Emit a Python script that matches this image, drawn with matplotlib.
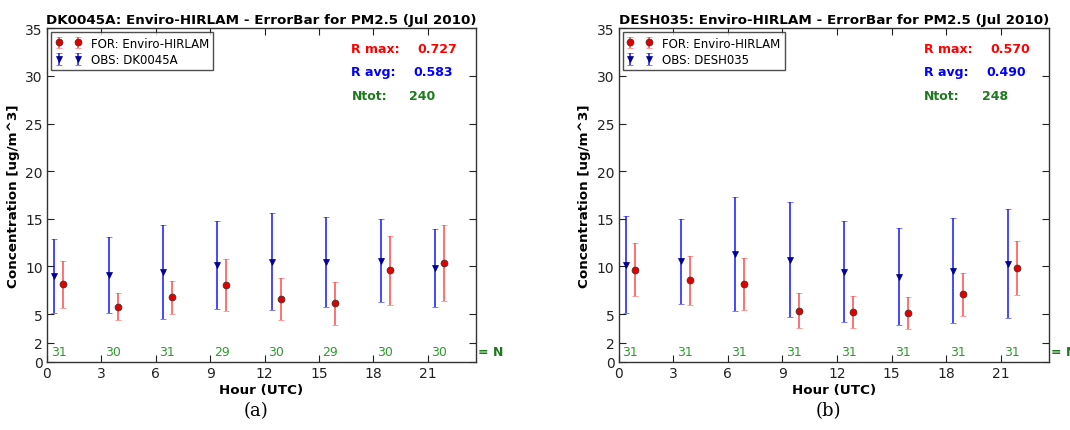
import numpy as np
import matplotlib
matplotlib.use('Agg')
import matplotlib.pyplot as plt

# ---------------------------------------------------------------------------
# Data (3-hourly means and spread)
# ---------------------------------------------------------------------------
HOURS = [0, 3, 6, 9, 12, 15, 18, 21]
XTICKS = [0, 3, 6, 9, 12, 15, 18, 21]
YTICKS = [0, 2, 5, 10, 15, 20, 25, 30, 35]

STATIONS = ['DK0045A', 'DESH035']
PANEL_TAGS = ['(a)', '(b)']

OBS_MEAN_A = [9.0, 9.1, 9.4, 10.15, 10.5, 10.45, 10.6, 9.85]
OBS_STD_A = [3.9, 3.96, 4.9, 4.63, 5.1, 4.73, 4.33, 4.12]
FOR_MEAN_A = [8.13, 5.78, 6.76, 8.02, 6.59, 6.13, 9.6, 10.37]
FOR_STD_A = [2.47, 1.39, 1.75, 2.75, 2.17, 2.26, 3.6, 4.0]
NCOUNT_A = [31, 30, 31, 29, 30, 29, 30, 30]

OBS_MEAN_B = [10.19, 10.54, 11.31, 10.68, 9.45, 8.93, 9.56, 10.29]
OBS_STD_B = [5.1, 4.45, 5.96, 6.04, 5.27, 5.1, 5.55, 5.73]
FOR_MEAN_B = [9.66, 8.55, 8.13, 5.33, 5.19, 5.15, 7.08, 9.81]
FOR_STD_B = [2.76, 2.59, 2.73, 1.84, 1.66, 1.68, 2.24, 2.82]
NCOUNT_B = [31, 31, 31, 31, 31, 31, 31, 31]

R_MAX = ['0.727', '0.570']
R_AVG = ['0.583', '0.490']
N_TOT = ['240', '248']

PANELS = [
    (OBS_MEAN_A, OBS_STD_A, FOR_MEAN_A, FOR_STD_A, NCOUNT_A),
    (OBS_MEAN_B, OBS_STD_B, FOR_MEAN_B, FOR_STD_B, NCOUNT_B),
]

AX_POS = [
    [0.0439, 0.1585, 0.4007, 0.7735],
    [0.5782, 0.1585, 0.4021, 0.7735],
]


def draw_panel(ax, station, obs_m, obs_s, for_m, for_s, ncount, rmax, ravg, ntot):
    h = np.array(HOURS, dtype=float)

    ax.errorbar(h + 0.4, obs_m, yerr=obs_s, fmt='v', color='#0000a0',
                ecolor=(0.1, 0.1, 1.0, 0.8), elinewidth=1.4, capsize=2.2,
                capthick=1.4, markersize=5, markeredgecolor='#000080',
                markeredgewidth=0.5, label=f'OBS: {station}', zorder=3)
    ax.errorbar(h + 0.9, for_m, yerr=for_s, fmt='o', color='#e00000',
                ecolor=(1.0, 0.3, 0.3, 0.8), elinewidth=1.4, capsize=2.2,
                capthick=1.4, markersize=5, markeredgecolor='#333333',
                markeredgewidth=0.5, label='FOR: Enviro-HIRLAM', zorder=4)

    for hr, n in zip(HOURS, ncount):
        ax.text(hr + 0.2, 0.35, str(n), color='#2e9a2e', fontsize=9,
                ha='left', va='bottom')
    ax.text(1.005, 0.35 / 35, '= N', transform=ax.transAxes, color='#1f7a1f',
            fontsize=9, fontweight='bold', ha='left', va='bottom',
            clip_on=False)

    ax.set_xlim(0, 23.65)
    ax.set_ylim(0, 35)
    ax.set_xticks(XTICKS)
    ax.set_yticks(YTICKS)
    ax.tick_params(direction='in', top=True, right=True, labelsize=10,
                   length=5, width=0.8, colors='#222222', pad=3)
    for s in ax.spines.values():
        s.set_linewidth(1.0)
        s.set_color('#333333')

    ax.set_title(f'{station}: Enviro-HIRLAM - ErrorBar for PM2.5 (Jul 2010)',
                 fontsize=9.7, fontweight='bold', pad=4)
    ax.set_xlabel('Hour (UTC)', fontsize=9.7, fontweight='bold', labelpad=2)
    ax.set_ylabel('Concentration [ug/m^3]', fontsize=9.7, fontweight='bold',
                  labelpad=4)

    # stats box
    ax.text(0.71, 0.94, 'R max:', transform=ax.transAxes, color='red',
            fontsize=9, fontweight='bold', va='center')
    ax.text(0.865, 0.94, rmax, transform=ax.transAxes, color='red',
            fontsize=9, fontweight='bold', va='center')
    ax.text(0.71, 0.87, 'R avg:', transform=ax.transAxes, color='blue',
            fontsize=9, fontweight='bold', va='center')
    ax.text(0.855, 0.87, ravg, transform=ax.transAxes, color='blue',
            fontsize=9, fontweight='bold', va='center')
    ax.text(0.71, 0.798, 'Ntot:', transform=ax.transAxes, color='#1f7a1f',
            fontsize=9, fontweight='bold', va='center')
    ax.text(0.845, 0.798, ntot, transform=ax.transAxes, color='#1f7a1f',
            fontsize=9, fontweight='bold', va='center')

    handles, labels = ax.get_legend_handles_labels()
    leg = ax.legend(handles[::-1], labels[::-1], loc='upper left',
                    numpoints=2, fontsize=8.5, fancybox=False,
                    borderaxespad=0.35, handlelength=2.2, labelspacing=0.3,
                    borderpad=0.35)
    leg.get_frame().set_edgecolor('#222222')
    leg.get_frame().set_linewidth(1.0)


fig = plt.figure(figsize=(10.7, 4.31), dpi=100)
for i, (pos, station, data) in enumerate(zip(AX_POS, STATIONS, PANELS)):
    ax = fig.add_axes(pos)
    draw_panel(ax, station, *data, R_MAX[i], R_AVG[i], N_TOT[i])
    fig.text(pos[0] + pos[2] / 2 - 0.005, 0.025, PANEL_TAGS[i],
             family='DejaVu Serif', fontsize=13, ha='center', va='bottom')

fig.savefig('out.png', dpi=100)
